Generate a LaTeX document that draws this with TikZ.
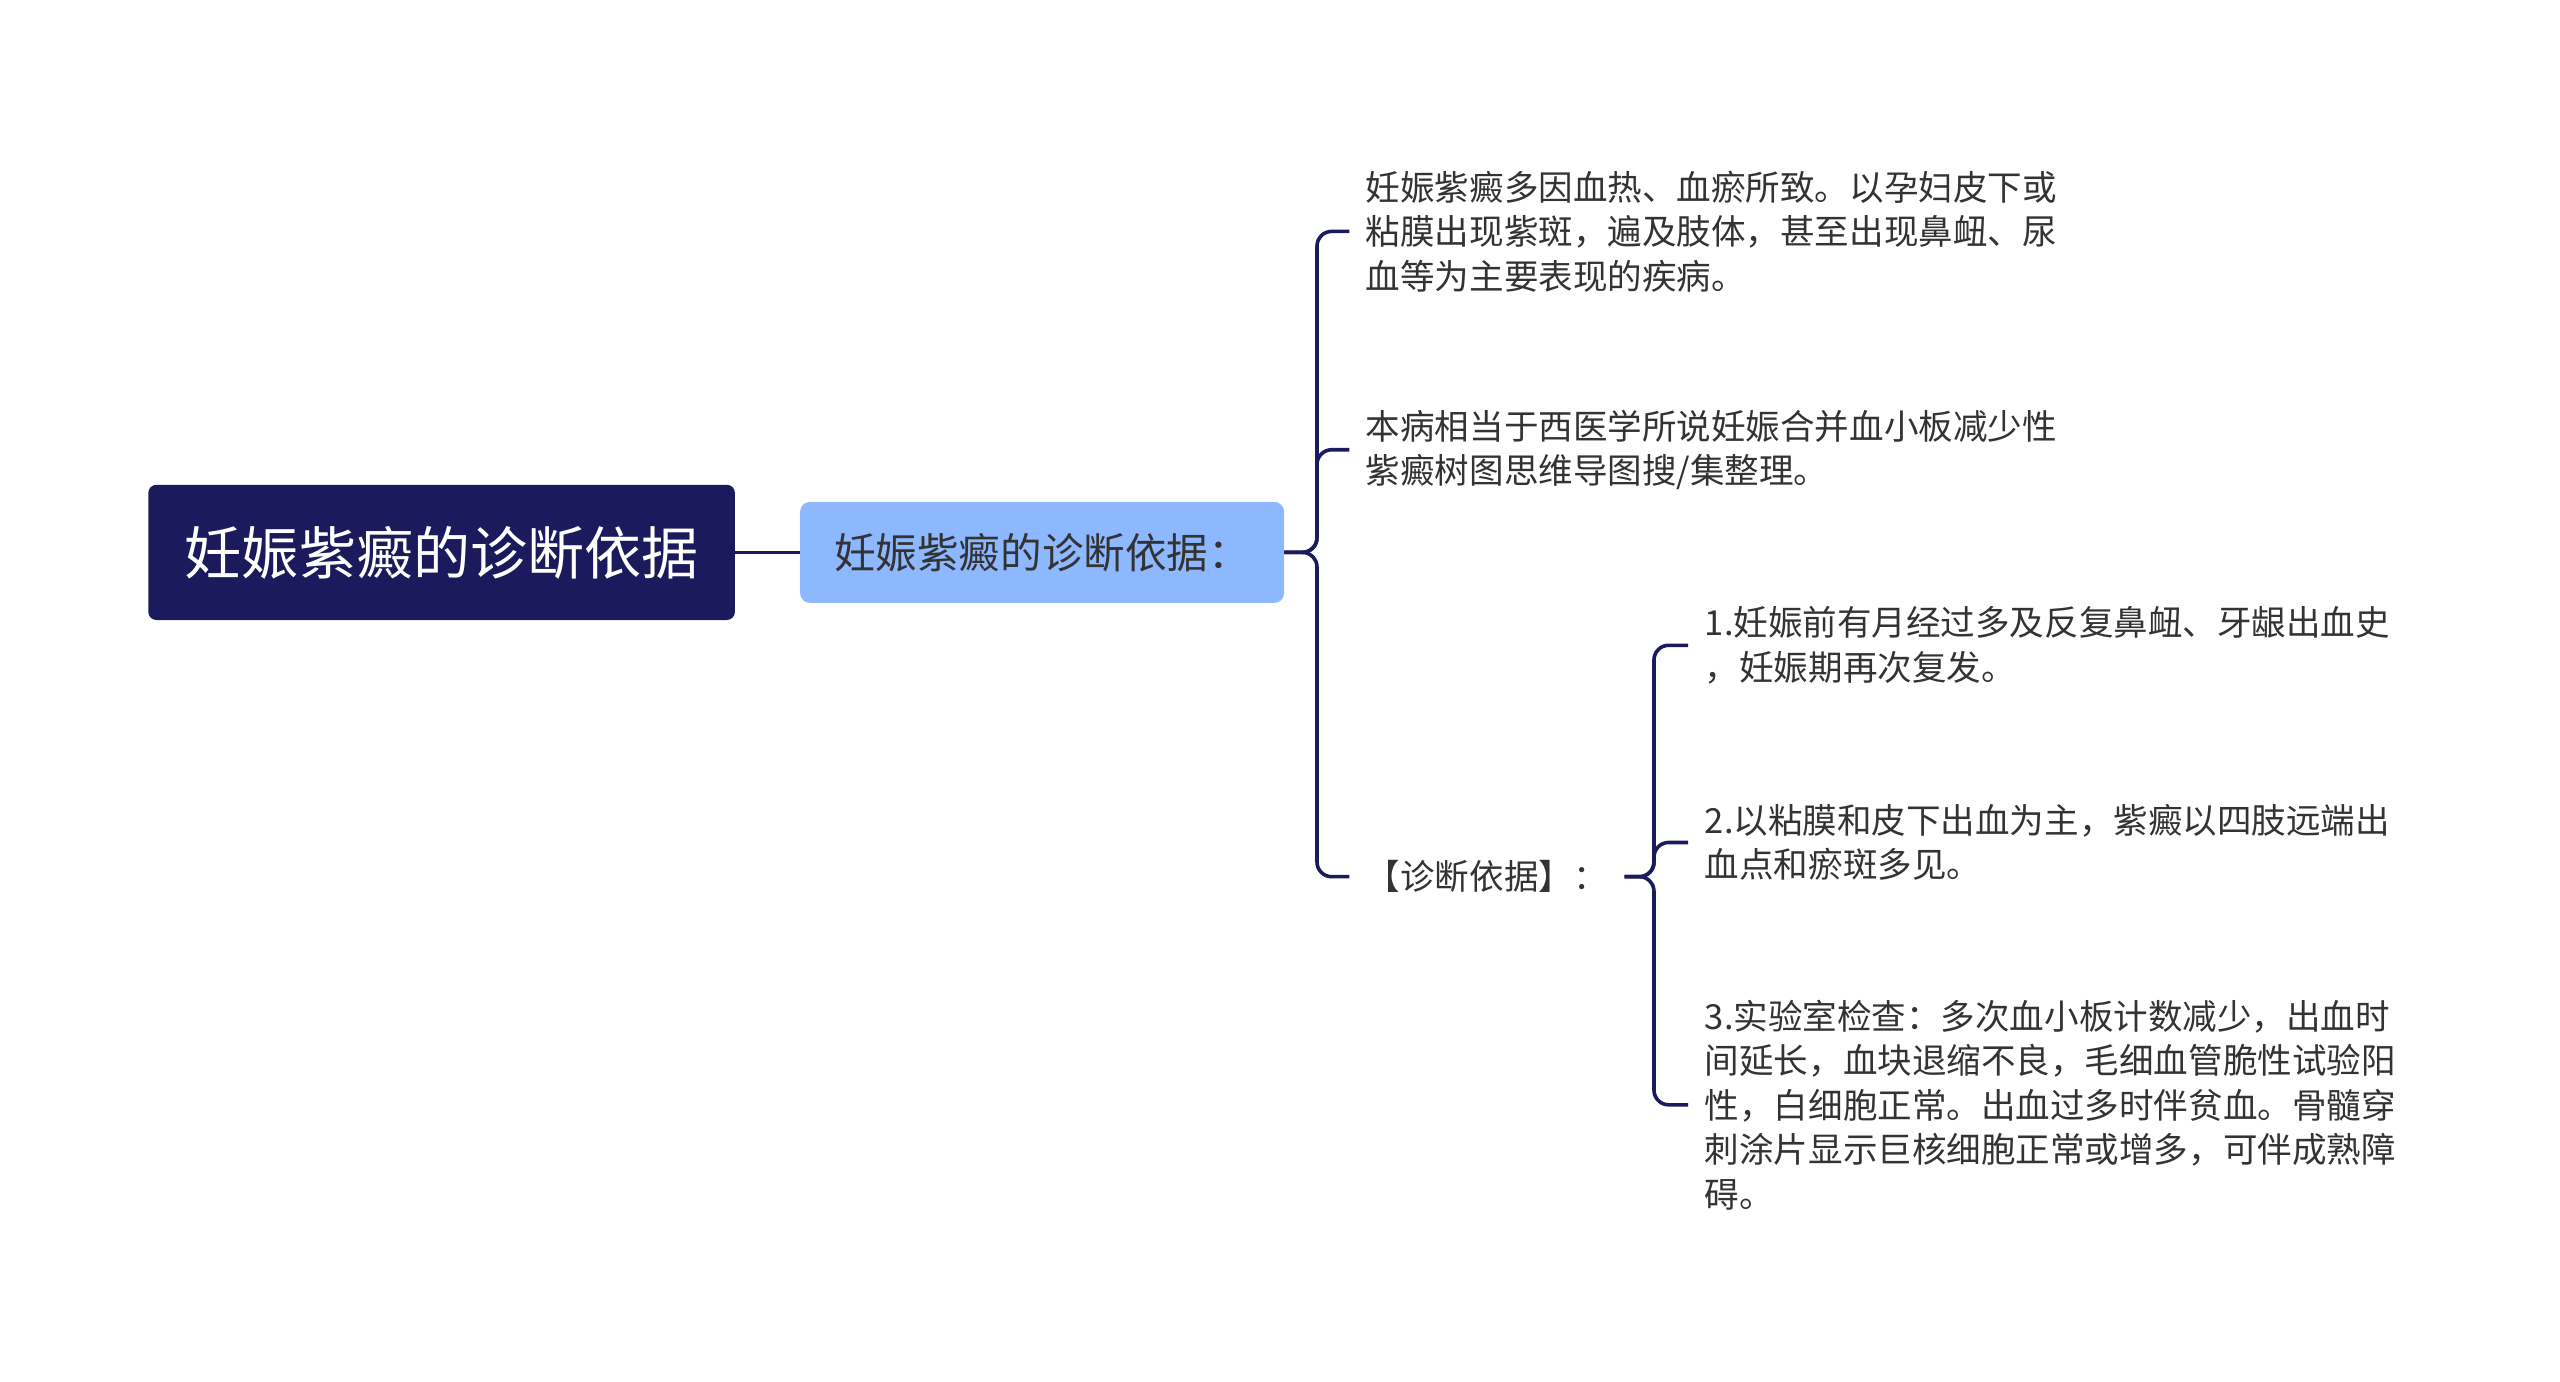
\documentclass[tikz,border=0pt]{standalone}
\usepackage{fontspec}
\setmainfont{Noto Sans CJK SC}
\definecolor{navy}{HTML}{1B1A5C}
\definecolor{lblue}{HTML}{8DB8FF}
\definecolor{txt}{HTML}{333333}
\begin{document}
\begin{tikzpicture}[x=1pt,y=-1pt,
  conn/.style={draw=navy,line width=2.2pt,rounded corners=9pt},
  leaf/.style={anchor=west,inner sep=0pt,align=left,text=txt,font=\fontsize{21.2}{27.3}\selectfont}]
\useasboundingbox (0,0) rectangle (1571,847.5);
\node[fill=navy,rounded corners=5pt,minimum width=360pt,minimum height=83pt,text=white,font=\fontsize{35}{40}\selectfont] (root) at (271,339) {妊娠紫癜的诊断依据};
\node[fill=lblue,rounded corners=6pt,minimum width=297pt,minimum height=62pt,text=txt,font=\fontsize{25.5}{30}\selectfont] (sub) at (639.5,339) {妊娠紫癜的诊断依据：};
\draw[navy,line width=2.2pt] (root.east) -- (sub.west);
\node[leaf] (l1) at (838,142) {妊娠紫癜多因血热、血瘀所致。以孕妇皮下或\\粘膜出现紫斑，遍及肢体，甚至出现鼻衄、尿\\血等为主要表现的疾病。};
\node[leaf] (l2) at (838,276) {本病相当于西医学所说妊娠合并血小板减少性\\紫癜树图思维导图搜/集整理。};
\node[leaf] (l3) at (838,538) {【诊断依据】：};
\foreach \n in {l1,l2,l3} \draw[conn] (sub.east) -- ++(20,0) |- ([xshift=-10pt]\n.west);
\node[leaf] (a) at (1046,396) {1.妊娠前有月经过多及反复鼻衄、牙龈出血史\\，妊娠期再次复发。};
\node[leaf] (b) at (1046,517) {2.以粘膜和皮下出血为主，紫癜以四肢远端出\\血点和瘀斑多见。};
\node[leaf] (c) at (1046,678) {3.实验室检查：多次血小板计数减少，出血时\\间延长，血块退缩不良，毛细血管脆性试验阳\\性，白细胞正常。出血过多时伴贫血。骨髓穿\\刺涂片显示巨核细胞正常或增多，可伴成熟障\\碍。};
\coordinate (l3e) at (997,538);
\foreach \n in {a,b,c} \draw[conn] (l3e) -- ++(18,0) |- ([xshift=-10pt]\n.west);
\end{tikzpicture}
\end{document}
